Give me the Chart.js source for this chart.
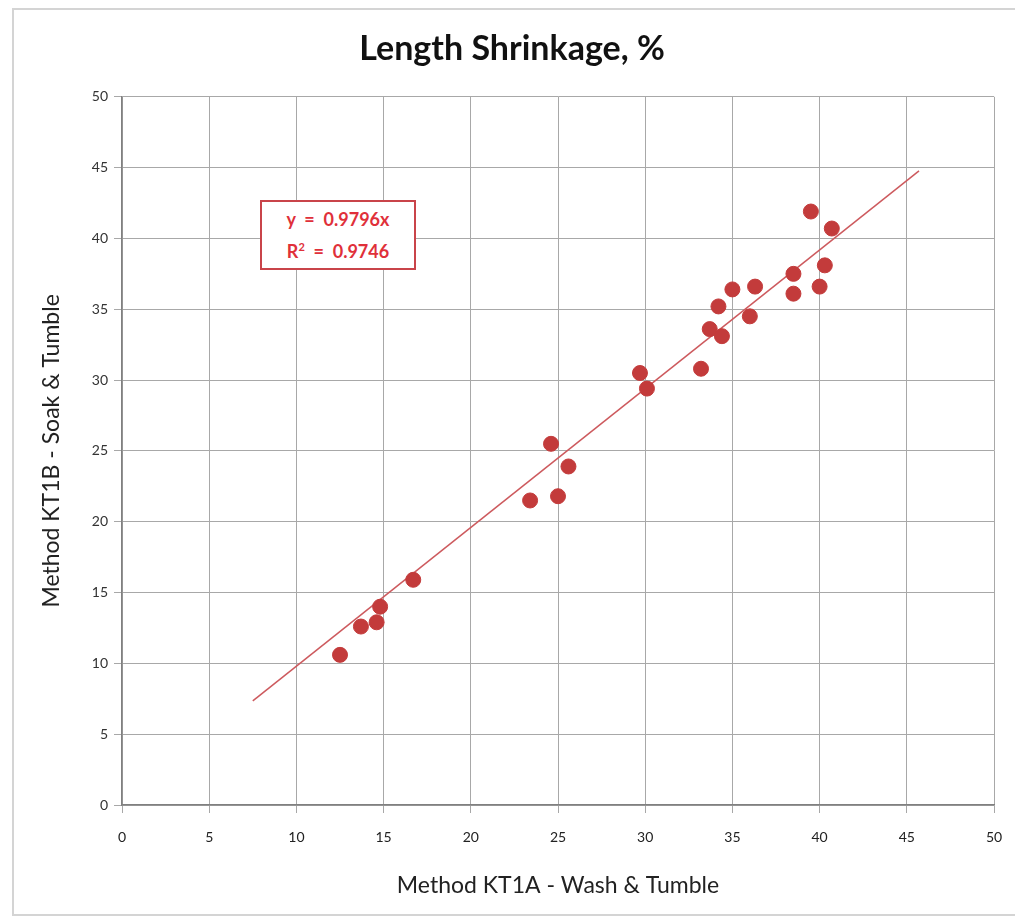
<!DOCTYPE html>
<html>
<head>
<meta charset="utf-8">
<script src="https://cdn.jsdelivr.net/npm/chart.js@4.4.1/dist/chart.umd.min.js"></script>
<style>
  html, body { margin: 0; padding: 0; background: #fff; }
  #wrap { position: relative; width: 1015px; height: 920px; overflow: hidden; }
  #frame { position: absolute; left: 12px; top: 8px; width: 1010px; height: 908px; border: 2px solid #d4d4d4; box-sizing: border-box; }
  canvas { position: absolute; left: 0; top: 0; }
  #eq { position: absolute; left: 260px; top: 200px; width: 156px; height: 70px; box-sizing: border-box;
        border: 2px solid #c9444a; background: #fff; color: #e0303a;
        font-family: Lato, "Open Sans", sans-serif; font-weight: bold; font-size: 18px; line-height: 32px;
        text-align: center; padding-top: 1px; white-space: pre; }
  #eq sup { font-size: 11px; line-height: 0; vertical-align: 7px; }
</style>
</head>
<body>
<div id="wrap">
  <div id="frame"></div>
  <canvas id="c" width="1015" height="920"></canvas>
  <div id="eq">y  =  0.9796x<br>R<sup>2</sup>  =  0.9746</div>
</div>
<script>
const xValues = [12.5, 13.7, 14.6, 14.8, 16.7, 23.4, 25.0, 24.6, 25.6, 29.7, 30.1, 33.2, 33.7, 34.2, 34.4, 35.0, 36.0, 36.3, 38.5, 38.5, 39.5, 40.0, 40.3, 40.7];
const yValues = [10.6, 12.6, 12.9, 14.0, 15.9, 21.5, 21.8, 25.5, 23.9, 30.5, 29.4, 30.8, 33.6, 35.2, 33.1, 36.4, 34.5, 36.6, 36.1, 37.5, 41.9, 36.6, 38.1, 40.7];
const trendX = [7.5, 45.7];
const trendY = [7.35, 44.77];
const tickValues = [0, 5, 10, 15, 20, 25, 30, 35, 40, 45, 50];

const scatterPts = xValues.map((x, i) => ({ x: x, y: yValues[i] }));
const trendPts = trendX.map((x, i) => ({ x: x, y: trendY[i] }));

const tickFont = { family: 'Lato, "Open Sans", sans-serif', size: 14 };
const axisTitleFont = { family: 'Lato, "Open Sans", sans-serif', size: 23 };

new Chart(document.getElementById('c'), {
  type: 'scatter',
  data: {
    datasets: [
      {
        label: 'Trend',
        type: 'line',
        data: trendPts,
        borderColor: '#cd5a5e',
        borderWidth: 1.5,
        pointRadius: 0,
        fill: false,
        order: 2
      },
      {
        label: 'Length Shrinkage',
        data: scatterPts,
        backgroundColor: '#c33b3b',
        borderColor: '#c33b3b',
        pointRadius: 7.5,
        pointHoverRadius: 7.5,
        order: 1
      }
    ]
  },
  options: {
    responsive: false,
    animation: false,
    layout: { padding: { left: 30, right: 21, top: 8, bottom: 14 } },
    plugins: {
      legend: { display: false },
      tooltip: { enabled: false },
      title: {
        display: true,
        text: 'Length Shrinkage, %',
        color: '#111',
        font: { family: 'Lato, "Open Sans", sans-serif', size: 34, weight: 'bold' },
        padding: { top: 21, bottom: 27 }
      }
    },
    scales: {
      x: {
        type: 'linear',
        min: 0, max: 50,
        afterBuildTicks: (s) => { s.ticks = tickValues.map(v => ({ value: v })); },
        afterFit: (s) => { s.height = 101; s.paddingLeft = 0; s.paddingRight = 0; },
        grid: { color: '#a8a8a8', lineWidth: 1, tickLength: 8, drawTicks: true },
        border: { color: '#808080', width: 1.5 },
        ticks: { color: '#222', font: tickFont, padding: 16, maxRotation: 0 },
        title: { display: true, text: 'Method KT1A - Wash & Tumble', color: '#222', font: axisTitleFont, padding: { top: 0, bottom: 7 } }
      },
      y: {
        type: 'linear',
        min: 0, max: 50,
        afterBuildTicks: (s) => { s.ticks = tickValues.map(v => ({ value: v })); },
        afterFit: (s) => { s.width = 92; s.paddingTop = 0; s.paddingBottom = 0; },
        grid: { color: '#a8a8a8', lineWidth: 1, tickLength: 8, drawTicks: true },
        border: { color: '#808080', width: 1.5 },
        ticks: { color: '#333', font: tickFont, padding: 6 },
        title: { display: true, text: 'Method KT1B - Soak & Tumble', color: '#222', font: axisTitleFont, padding: { top: 8, bottom: 0 } }
      }
    }
  }
});
</script>
</body>
</html>
